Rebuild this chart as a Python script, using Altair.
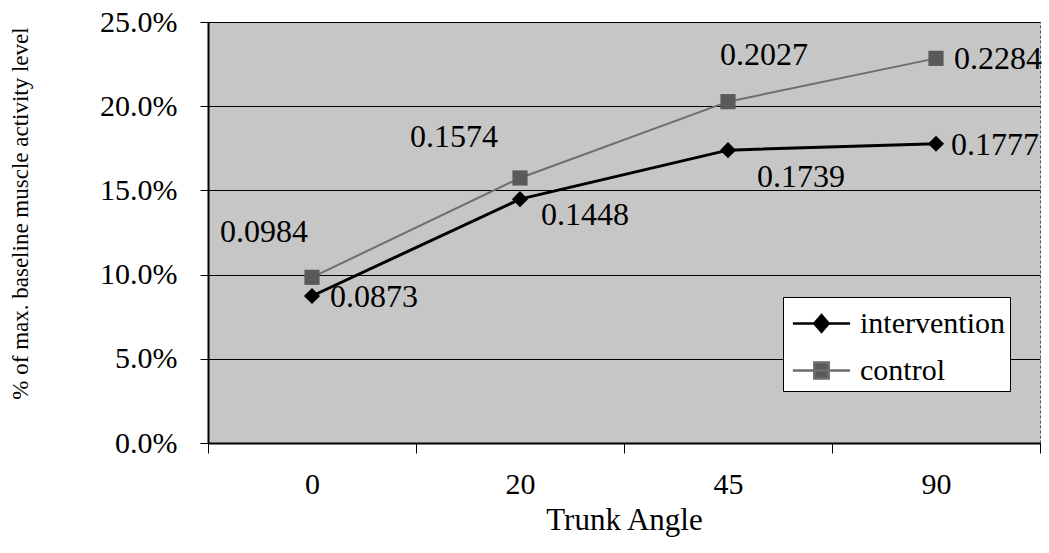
import altair as alt
import pandas as pd

# ---- data ----
ANGLES = ["0", "20", "45", "90"]
INTERVENTION = [0.0873, 0.1448, 0.1739, 0.1777]
CONTROL = [0.0984, 0.1574, 0.2027, 0.2284]
SERIES = ["intervention", "control"]
Y_TICKS = [0.0, 0.05, 0.10, 0.15, 0.20, 0.25]

# ---- style / label placement (align, dx, dy) ----
FONT = "Liberation Serif"
LABEL_PLACEMENT = {
    ("control", "0"): ("center", -48, -45),
    ("control", "20"): ("center", -66, -41),
    ("control", "45"): ("center", 36, -47),
    ("control", "90"): ("left", 18, 1),
    ("intervention", "0"): ("left", 18, 1),
    ("intervention", "20"): ("left", 21, 16),
    ("intervention", "45"): ("center", 73, 27),
    ("intervention", "90"): ("left", 15, 1),
}
LINE_COLORS = ["#000000", "#6e6e6e"]
LINE_WIDTHS = [3, 2]
MARK_COLORS = ["#000000", "#5a5a5a"]
MARK_SHAPES = ["diamond", "square"]
MARK_SIZES = [260, 230]
LEG_DIAMOND = "M-1.43,0H1.43M0,-0.42L0.36,0L0,0.42L-0.36,0Z"
LEG_SQUARE = "M-1.43,0H1.43M-0.36,-0.4H0.36V0.4H-0.36Z"

rows = []
for s, vals in zip(SERIES, [INTERVENTION, CONTROL]):
    for a, v in zip(ANGLES, vals):
        rows.append({"angle": a, "series": s, "value": v})
df = pd.DataFrame(rows)

x_enc = alt.X(
    "angle:N",
    sort=ANGLES,
    bandPosition=0.5,
    scale=alt.Scale(type="band", domain=ANGLES, paddingInner=0, paddingOuter=0),
    axis=alt.Axis(
        title="Trunk Angle",
        labelAngle=0,
        tickBand="extent",
        grid=False,
        domainColor="black",
        domainWidth=2,
        tickColor="black",
        tickSize=10,
        tickWidth=1,
        labelFont=FONT,
        labelFontSize=30,
        labelColor="black",
        labelPadding=16,
        titleFont=FONT,
        titleFontSize=31,
        titleFontWeight="normal",
        titleColor="black",
        titlePadding=6,
    ),
)
y_enc = alt.Y(
    "value:Q",
    scale=alt.Scale(domain=[0, 0.25], nice=False, zero=True),
    axis=alt.Axis(
        title="% of max. baseline muscle activity level",
        values=Y_TICKS,
        format=".1%",
        grid=True,
        gridColor="black",
        gridWidth=1,
        domainColor="black",
        domainWidth=2,
        tickColor="black",
        tickSize=8,
        labelFont=FONT,
        labelFontSize=30,
        labelColor="black",
        labelPadding=23,
        titleFont=FONT,
        titleFontSize=23,
        titleFontWeight="normal",
        titleColor="black",
        titleBaseline="middle",
        titleX=-188,
        titleY=191,
    ),
)

base = alt.Chart(df)

series_layers = []
for s, lc, lw in zip(SERIES, LINE_COLORS, LINE_WIDTHS):
    series_layers.append(
        base.transform_filter(alt.datum.series == s)
        .mark_line(color=lc, strokeWidth=lw)
        .encode(x=x_enc, y=y_enc)
    )
for s, mc, shp, sz in zip(SERIES, MARK_COLORS, MARK_SHAPES, MARK_SIZES):
    series_layers.append(
        base.transform_filter(alt.datum.series == s)
        .mark_point(shape=shp, filled=True, size=sz, color=mc, opacity=1)
        .encode(x=x_enc, y=y_enc)
    )

legend_spec = alt.Legend(
    title=None,
    orient="none",
    legendX=575,
    legendY=275,
    fillColor="white",
    strokeColor="black",
    padding=5,
    symbolOffset=12,
    labelOffset=17,
    rowPadding=10,
    symbolSize=1600,
    symbolStrokeWidth=2.5,
    labelFont=FONT,
    labelFontSize=30,
    labelColor="black",
    cornerRadius=0,
)

# layer that draws nothing and only provides the legend (line + marker symbols)
legend_layer = base.transform_filter("false").mark_point(filled=True, opacity=1).encode(
    x=x_enc,
    y=y_enc,
    fill=alt.Fill("series:N", scale=alt.Scale(domain=SERIES, range=MARK_COLORS), legend=legend_spec),
    stroke=alt.Stroke("series:N", scale=alt.Scale(domain=SERIES, range=LINE_COLORS), legend=legend_spec),
    shape=alt.Shape("series:N", scale=alt.Scale(domain=SERIES, range=[LEG_DIAMOND, LEG_SQUARE]), legend=legend_spec),
)

label_layers = []
for (s, a), (align, dx, dy) in LABEL_PLACEMENT.items():
    label_layers.append(
        base.transform_filter((alt.datum.series == s) & (alt.datum.angle == a))
        .mark_text(align=align, baseline="middle", dx=dx, dy=dy, font=FONT, fontSize=32, color="black")
        .encode(x=x_enc, y=y_enc, text=alt.Text("value:Q", format=".4f"))
    )

chart = (
    alt.layer(*series_layers, *label_layers, legend_layer)
    .properties(
        width=832,
        height=421,
        autosize=alt.AutoSizeParams(type="none"),
        padding={"left": 208, "top": 22, "right": 9, "bottom": 110},
        background="white",
    )
    .configure_view(fill="#c6c6c6", stroke="#555555", strokeDash=[3, 2], strokeWidth=1)
)

chart.save("out.html", embed_options={"renderer": "svg", "actions": False})
